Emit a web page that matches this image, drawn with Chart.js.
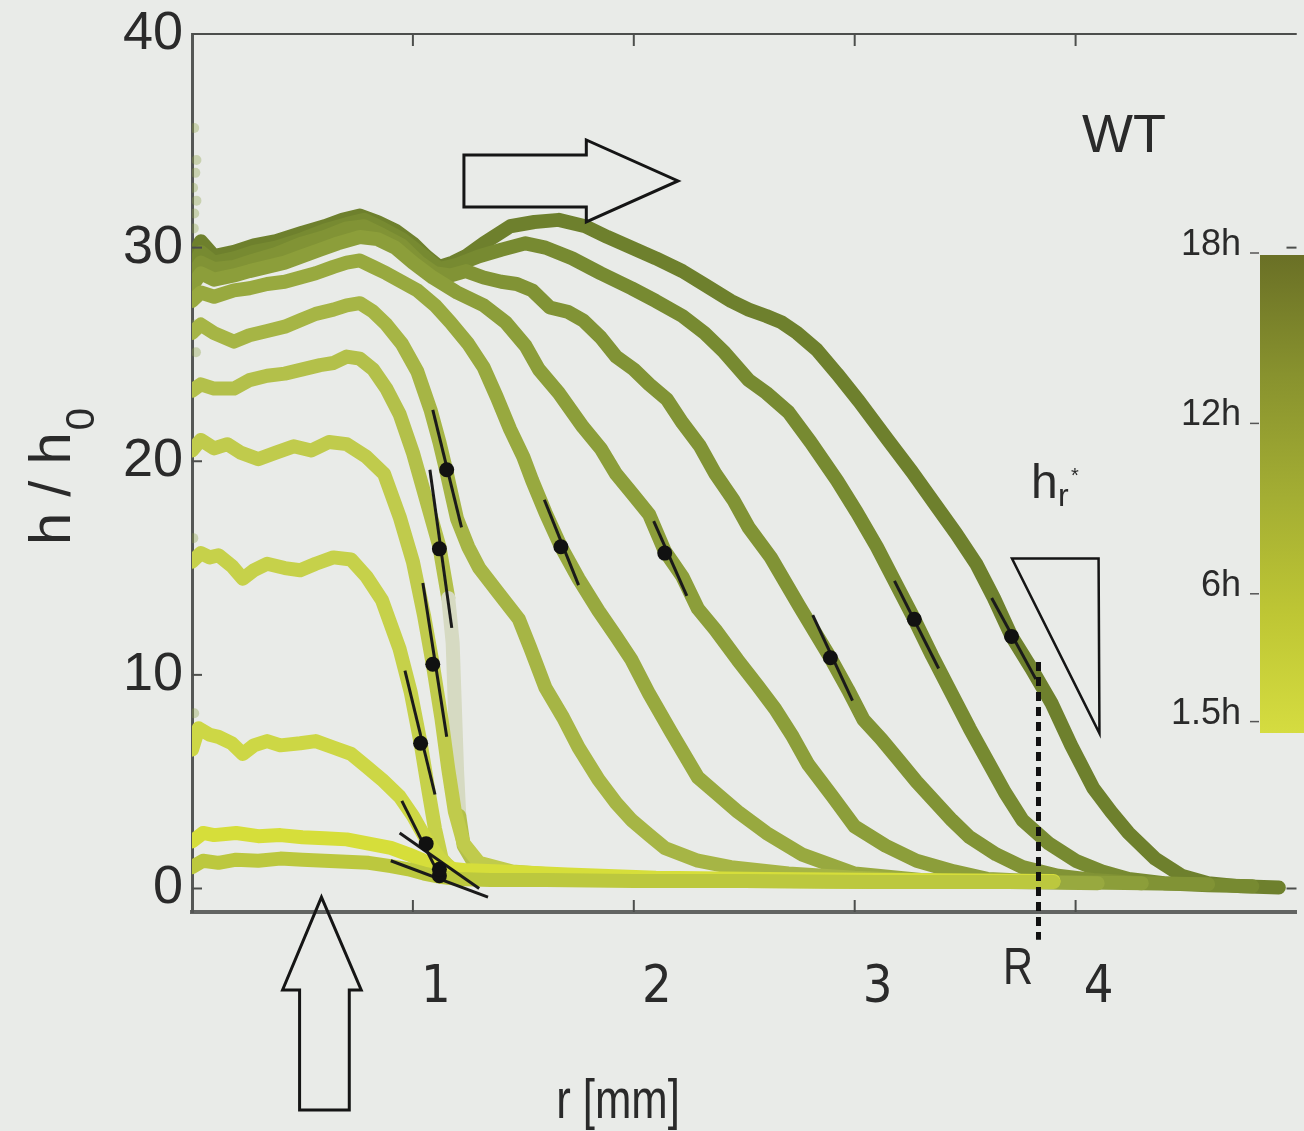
<!DOCTYPE html>
<html>
<head>
<meta charset="utf-8">
<script src="https://cdn.jsdelivr.net/npm/chart.js@4.4.1/dist/chart.umd.min.js"></script>
<style>
  html, body { margin: 0; padding: 0; background: #e9ebe8; }
  canvas { display: block; }
</style>
</head>
<body>
<canvas id="profileChart" width="1304" height="1131"></canvas>
<script>
// axis ticks
const xTicks = [1, 2, 3, 4]
const xTickLabels = ['1', '2', '3', '4']
const yTicks = [0, 10, 20, 30, 40]
const yTickLabels = ['0', '10', '20', '30', '40']

// colour bar (time of each profile)
const timeValues = [18, 12, 6, 1.5]
const timeLabels = ['18h', '12h', '6h', '1.5h']

// profiles h/h0 against r [mm], earliest first
const rC1 = [0, 0.05, 0.12, 0.2, 0.3, 0.4, 0.5, 0.6, 0.7, 0.8, 0.9, 0.98, 1.05, 1.12, 1.2, 1.35, 1.6, 2.0, 2.5, 3.1, 3.9]
const hC1 = [1.0, 1.3, 1.2, 1.35, 1.3, 1.4, 1.35, 1.3, 1.25, 1.2, 1.05, 0.9, 0.7, 0.55, 0.45, 0.4, 0.4, 0.35, 0.35, 0.3, 0.3]

const rC2 = [0, 0.05, 0.1, 0.2, 0.3, 0.4, 0.5, 0.6, 0.7, 0.8, 0.9, 0.98, 1.05, 1.1, 1.15, 1.25, 1.4, 1.7, 2.1, 2.6, 3.2, 3.9]
const hC2 = [2.2, 2.6, 2.5, 2.6, 2.45, 2.5, 2.4, 2.35, 2.3, 2.1, 1.9, 1.6, 1.3, 1.1, 0.95, 0.85, 0.8, 0.65, 0.5, 0.45, 0.4, 0.35]

const rC3 = [0, 0.03, 0.08, 0.12, 0.18, 0.23, 0.28, 0.34, 0.4, 0.49, 0.56, 0.64, 0.72, 0.79, 0.86, 0.94, 1.0, 1.06, 1.12, 1.18, 1.28, 1.45, 1.8, 2.3, 2.9, 3.6]
const hC3 = [6.5, 7.5, 7.2, 7.1, 6.8, 6.3, 6.7, 6.9, 6.7, 6.8, 6.9, 6.6, 6.3, 5.7, 5.1, 4.3, 3.4, 2.3, 1.4, 0.9, 0.7, 0.6, 0.5, 0.4, 0.35, 0.3]

const rC4 = [0, 0.04, 0.08, 0.12, 0.18, 0.23, 0.28, 0.34, 0.42, 0.49, 0.56, 0.64, 0.72, 0.79, 0.86, 0.94, 0.99, 1.035, 1.07, 1.1, 1.13, 1.18, 1.3, 1.5, 1.9, 2.5, 3.2]
const hC4 = [15.3, 15.7, 15.5, 15.6, 15.1, 14.5, 14.9, 15.2, 15.0, 14.9, 15.2, 15.5, 15.4, 14.6, 13.5, 11.2, 9.2, 6.8, 4.6, 2.8, 1.4, 0.8, 0.6, 0.5, 0.45, 0.35, 0.3]

const rC5 = [0, 0.04, 0.1, 0.16, 0.22, 0.3, 0.38, 0.46, 0.54, 0.62, 0.7, 0.79, 0.87, 0.94, 1.0, 1.05, 1.09, 1.13, 1.16, 1.19, 1.23, 1.3, 1.45, 1.7, 2.1, 2.7, 3.4]
const hC5 = [20.5, 21.0, 20.6, 20.8, 20.4, 20.1, 20.4, 20.7, 20.5, 20.9, 20.8, 20.2, 19.4, 17.4, 15.3, 12.8, 10.5, 7.9, 5.6, 3.6, 2.1, 1.2, 0.8, 0.6, 0.45, 0.35, 0.3]

const rC6 = [0, 0.04, 0.1, 0.19, 0.26, 0.34, 0.42, 0.5, 0.58, 0.64, 0.7, 0.76, 0.82, 0.88, 0.94, 1.0, 1.06, 1.12, 1.16, 1.18, 1.19, 1.2, 1.21, 1.23, 1.27, 1.35, 1.5, 1.8, 2.2, 2.8, 3.5]
const hC6 = [23.3, 23.6, 23.4, 23.4, 23.8, 24.0, 24.1, 24.3, 24.5, 24.6, 24.9, 24.8, 24.3, 23.4, 22.2, 20.4, 18.2, 16.0, 13.6, 11.5, 8.5, 5.5, 3.4, 2.0, 1.3, 0.9, 0.7, 0.55, 0.45, 0.35, 0.3]

const rC7 = [0, 0.04, 0.1, 0.19, 0.26, 0.34, 0.42, 0.49, 0.56, 0.64, 0.7, 0.76, 0.82, 0.88, 0.95, 1.02, 1.08, 1.12, 1.15, 1.2, 1.25, 1.3, 1.39, 1.48, 1.53, 1.6, 1.68, 1.75, 1.84, 1.92, 1.99, 2.07, 2.14, 2.29, 2.44, 2.7, 3.0, 3.4, 3.8]
const hC7 = [26.0, 26.4, 26.0, 25.6, 25.9, 26.1, 26.3, 26.6, 26.9, 27.1, 27.3, 27.4, 27.0, 26.4, 25.5, 24.2, 22.4, 20.9, 19.6, 17.3, 16.0, 15.0, 13.8, 12.6, 11.3, 9.4, 8.0, 6.6, 5.1, 4.0, 3.2, 2.5, 1.9, 1.3, 1.0, 0.7, 0.5, 0.35, 0.3]

const rC8 = [0, 0.04, 0.1, 0.19, 0.26, 0.34, 0.42, 0.49, 0.56, 0.64, 0.7, 0.76, 0.82, 0.88, 0.95, 1.02, 1.1, 1.17, 1.25, 1.32, 1.38, 1.44, 1.5, 1.54, 1.6, 1.67, 1.75, 1.84, 1.92, 1.99, 2.07, 2.17, 2.29, 2.38, 2.47, 2.6, 2.76, 3.0, 3.3, 3.7, 4.1]
const hC8 = [27.5, 27.9, 27.7, 28.0, 28.1, 28.3, 28.4, 28.6, 28.8, 29.1, 29.3, 29.4, 29.1, 28.8, 28.4, 28.0, 27.3, 26.5, 25.5, 24.4, 23.0, 21.5, 20.2, 19.1, 17.6, 16.0, 14.5, 13.0, 11.8, 10.7, 9.1, 7.3, 5.2, 4.4, 3.6, 2.6, 1.6, 0.7, 0.4, 0.3, 0.25]

const rC9 = [0, 0.04, 0.1, 0.19, 0.26, 0.34, 0.42, 0.5, 0.58, 0.66, 0.76, 0.84, 0.92, 1.0, 1.09, 1.2, 1.32, 1.42, 1.51, 1.57, 1.66, 1.77, 1.85, 1.92, 2.0, 2.07, 2.14, 2.22, 2.29, 2.37, 2.47, 2.56, 2.64, 2.72, 2.79, 2.9, 3.0, 3.14, 3.28, 3.45, 3.6, 3.9, 4.3]
const hC9 = [28.2, 28.8, 28.5, 28.7, 28.9, 29.1, 29.3, 29.6, 29.9, 30.2, 30.5, 30.4, 30.0, 29.3, 28.6, 27.9, 27.3, 26.5, 25.4, 24.3, 23.2, 21.6, 20.6, 19.4, 18.4, 17.5, 15.8, 14.6, 13.1, 12.1, 10.7, 9.5, 8.4, 7.1, 5.8, 4.3, 2.9, 2.0, 1.3, 0.8, 0.45, 0.3, 0.25]

const rC10 = [0, 0.04, 0.1, 0.19, 0.28, 0.38, 0.5, 0.6, 0.7, 0.78, 0.86, 0.95, 1.03, 1.1, 1.17, 1.24, 1.32, 1.4, 1.47, 1.54, 1.62, 1.7, 1.77, 1.85, 1.92, 2.0, 2.07, 2.15, 2.22, 2.3, 2.37, 2.45, 2.52, 2.62, 2.75, 2.89, 2.97, 3.04, 3.12, 3.2, 3.28, 3.36, 3.44, 3.52, 3.64, 3.76, 3.92, 4.08, 4.3, 4.6]
const hC10 = [28.7, 29.3, 29.0, 29.1, 29.4, 29.7, 30.2, 30.5, 30.9, 31.0, 30.6, 30.1, 29.3, 28.8, 28.7, 28.9, 28.6, 28.4, 28.3, 28.0, 27.2, 27.0, 26.6, 25.8, 24.9, 24.3, 23.6, 22.9, 21.8, 20.7, 19.4, 18.2, 16.9, 15.5, 13.2, 10.8, 9.3, 7.9, 7.0, 6.0, 5.0, 4.1, 3.2, 2.4, 1.6, 1.0, 0.6, 0.4, 0.25, 0.2]

const rC11 = [0, 0.04, 0.1, 0.19, 0.28, 0.38, 0.5, 0.6, 0.7, 0.78, 0.86, 0.95, 1.05, 1.12, 1.2, 1.3, 1.4, 1.51, 1.6, 1.72, 1.85, 1.99, 2.1, 2.22, 2.32, 2.41, 2.52, 2.6, 2.7, 2.8, 2.92, 3.01, 3.1, 3.18, 3.27, 3.35, 3.44, 3.52, 3.6, 3.68, 3.76, 3.88, 4.0, 4.12, 4.24, 4.4, 4.6, 4.8]
const hC11 = [29.0, 29.8, 29.3, 29.5, 29.8, 30.0, 30.4, 30.8, 31.1, 31.3, 30.9, 30.4, 29.6, 29.0, 29.2, 29.6, 29.9, 30.2, 30.0, 29.5, 28.8, 28.1, 27.5, 26.8, 26.0, 25.1, 23.8, 23.2, 22.3, 20.9, 19.1, 17.6, 16.0, 14.4, 12.6, 10.9, 9.1, 7.5, 6.0, 4.5, 3.2, 2.1, 1.3, 0.8, 0.45, 0.25, 0.15, 0.1]

const rC12 = [0, 0.04, 0.1, 0.19, 0.28, 0.38, 0.5, 0.6, 0.68, 0.76, 0.84, 0.92, 1.0, 1.06, 1.12, 1.18, 1.24, 1.32, 1.44, 1.55, 1.66, 1.78, 1.88, 1.99, 2.1, 2.22, 2.33, 2.44, 2.52, 2.6, 2.67, 2.74, 2.83, 2.92, 3.02, 3.15, 3.26, 3.37, 3.46, 3.55, 3.63, 3.71, 3.8, 3.89, 3.98, 4.08, 4.16, 4.24, 4.36, 4.48, 4.6, 4.75, 4.92]
const hC12 = [29.4, 30.3, 29.6, 29.8, 30.1, 30.3, 30.7, 31.0, 31.3, 31.5, 31.2, 30.8, 30.2, 29.6, 29.1, 29.3, 29.6, 30.2, 31.0, 31.2, 31.3, 31.0, 30.5, 30.0, 29.5, 28.9, 28.2, 27.5, 27.1, 26.8, 26.5, 26.0, 25.2, 24.1, 22.8, 21.0, 19.5, 17.9, 16.6, 15.2, 13.6, 11.8, 10.3, 8.7, 6.7, 4.7, 3.6, 2.6, 1.4, 0.6, 0.25, 0.1, 0.05]

// scattered points at the left edge
const edgeR = [0.01, 0.02, 0.005, 0.015, 0.01, 0.02, 0.008, 0.012, 0.018, 0.006, 0.01]
const edgeH = [35.6, 34.1, 32.8, 33.5, 31.6, 32.2, 30.9, 26.4, 25.1, 16.4, 8.2]

// front points where the slope was taken, one per profile
const dotR = [1.12, 1.12, 1.06, 1.035, 1.09, 1.12, 1.153, 1.67, 2.14, 2.89, 3.27, 3.71]
const dotH = [0.6, 0.9, 2.1, 6.8, 10.5, 15.9, 19.6, 16.0, 15.7, 10.8, 12.6, 11.8]

// tangent segments: start r, start h, end r, end h
const tanR0 = [0.9, 0.94, 0.95, 0.964, 1.045, 1.077, 1.09, 1.595, 2.09, 2.81, 3.18, 3.62]
const tanH0 = [1.3, 2.6, 4.1, 10.2, 14.3, 19.6, 22.4, 18.2, 17.2, 12.8, 14.4, 13.6]
const tanR1 = [1.34, 1.3, 1.12, 1.1, 1.153, 1.176, 1.22, 1.75, 2.24, 2.99, 3.38, 3.82]
const tanH1 = [-0.4, 0.0, 0.6, 4.4, 7.1, 12.2, 16.9, 14.2, 13.7, 8.8, 10.3, 9.8]

// spreading radius R
const radiusR = [3.832, 3.832]
const radiusH = [10.6, -2.4]

const curveColors = ['#bcc83e', '#d6de3a', '#cdd745', '#c6d14a', '#c0cb4c', '#b3c04a', '#a6b545', '#98a93f', '#8c9e3a', '#819335', '#778a31', '#6e802d']

const fontMain = '"Liberation Sans", Arial, sans-serif'
const fontNarrow = '"Liberation Sans Narrow", "DejaVu Sans Condensed", "Liberation Sans", sans-serif'

function pts(rs, hs) {
  return rs.map((r, i) => ({ x: r, y: hs[i] }))
}

var curves = [
  [rC1, hC1], [rC2, hC2], [rC3, hC3], [rC4, hC4], [rC5, hC5], [rC6, hC6],
  [rC7, hC7], [rC8, hC8], [rC9, hC9], [rC10, hC10], [rC11, hC11], [rC12, hC12]
]

var datasets = []

// radius line, drawn on top
datasets.push({
  data: pts(radiusR, radiusH),
  showLine: true,
  borderColor: '#111',
  borderWidth: 5,
  borderDash: [9, 6],
  pointRadius: 0,
  clip: false,
  order: 0
})

// black dots
datasets.push({
  data: pts(dotR, dotH),
  pointRadius: 7.5,
  pointBackgroundColor: '#111',
  pointBorderWidth: 0,
  order: 1
})

// tangent lines
tanR0.forEach((r, i) => {
  datasets.push({
    data: pts([r, tanR1[i]], [tanH0[i], tanH1[i]]),
    showLine: true,
    borderColor: '#1a1a1a',
    borderWidth: 3,
    pointRadius: 0,
    order: 2
  })
})

curves.forEach((c, i) => {
  var ds = {
    data: pts(c[0], c[1]),
    showLine: true,
    borderColor: curveColors[i],
    borderWidth: 14,
    borderJoinStyle: 'round',
    borderCapStyle: 'round',
    pointRadius: 0,
    tension: 0,
    order: 10 + i
  }
  // the steep part of the 6th profile is drawn faint in the figure
  if (i == 5) {
    ds.segment = {
      borderColor: ctx => (ctx.p0.parsed.x >= 1.155 && ctx.p1.parsed.x <= 1.215) ? '#d6dac2' : undefined
    }
  }
  datasets.push(ds)
})

datasets.push({
  data: pts(edgeR, edgeH),
  pointRadius: 5,
  pointBackgroundColor: 'rgba(140, 160, 70, 0.35)',
  pointBorderWidth: 0,
  order: 40
})

function line(ctx, x0, y0, x1, y1) {
  ctx.beginPath()
  ctx.moveTo(x0, y0)
  ctx.lineTo(x1, y1)
  ctx.stroke()
}

function poly(ctx, P) {
  ctx.beginPath()
  P.forEach((p, i) => i ? ctx.lineTo(p[0], p[1]) : ctx.moveTo(p[0], p[1]))
  ctx.closePath()
  ctx.stroke()
}

// frame, inner ticks, arrows, labels and the colour bar
const extras = {
  id: 'extras',
  afterDraw(chart) {
    const ctx = chart.ctx
    const xs = chart.scales.x, ys = chart.scales.y
    const a = chart.chartArea
    const P = (r, h) => [xs.getPixelForValue(r), ys.getPixelForValue(h)]
    ctx.save()

    ctx.strokeStyle = '#4c4e4c'
    ctx.lineWidth = 2
    line(ctx, a.left, a.top, a.right, a.top)
    xTicks.forEach(v => {
      var x = xs.getPixelForValue(v)
      line(ctx, x, a.bottom, x, a.bottom - 12)
      line(ctx, x, a.top, x, a.top + 12)
    })
    yTicks.forEach(v => {
      var y = ys.getPixelForValue(v)
      line(ctx, a.left, y, a.left + 10, y)
      line(ctx, a.right, y, a.right - 10, y)
    })

    // arrows and slope triangle
    ctx.strokeStyle = '#151515'
    ctx.lineWidth = 3
    ctx.lineJoin = 'miter'
    poly(ctx, [P(1.231, 34.34), P(1.785, 34.34), P(1.785, 35.04), P(2.2, 33.12), P(1.785, 31.2), P(1.785, 31.9), P(1.231, 31.9)])
    poly(ctx, [P(0.586, -0.4), P(0.766, -4.75), P(0.712, -4.75), P(0.712, -10.37), P(0.487, -10.37), P(0.487, -4.75), P(0.41, -4.75)])
    ctx.lineWidth = 2.5
    poly(ctx, [P(3.712, 15.45), P(4.104, 15.45), P(4.108, 7.26)])

    ctx.fillStyle = '#2a2a2a'
    ctx.textBaseline = 'alphabetic'

    // WT
    ctx.font = '54px ' + fontMain
    ctx.textAlign = 'left'
    ctx.fillText('WT', 1082, 152)

    // h_r*
    ctx.font = '48px ' + fontMain
    ctx.fillText('h', 1031, 498)
    ctx.font = '32px ' + fontMain
    ctx.fillText('r', 1058, 506)
    ctx.font = '20px ' + fontMain
    ctx.fillText('*', 1071, 482)

    // R
    ctx.save()
    ctx.translate(1018, 984)
    ctx.scale(0.8, 1)
    ctx.font = '52px ' + fontMain
    ctx.textAlign = 'center'
    ctx.fillText('R', 0, 0)
    ctx.restore()

    // x title
    ctx.save()
    ctx.translate(618, 1118)
    ctx.scale(0.78, 1)
    ctx.font = '56px ' + fontMain
    ctx.textAlign = 'center'
    ctx.fillText('r [mm]', 0, 0)
    ctx.restore()

    // y title with subscript
    ctx.save()
    ctx.translate(70, 545)
    ctx.rotate(-Math.PI / 2)
    ctx.font = '58px ' + fontMain
    ctx.textAlign = 'left'
    ctx.fillText('h / h', 0, 0)
    var w = ctx.measureText('h / h').width
    ctx.font = '40px ' + fontMain
    ctx.fillText('0', w + 2, 24)
    ctx.restore()

    // colour bar
    var g = ctx.createLinearGradient(0, 255, 0, 733)
    g.addColorStop(0, '#6a7026')
    g.addColorStop(0.25, '#88922e')
    g.addColorStop(0.5, '#a3ad33')
    g.addColorStop(0.75, '#bec634')
    g.addColorStop(1, '#d5dc40')
    ctx.fillStyle = g
    ctx.fillRect(1260, 255, 44, 478)

    ctx.fillStyle = '#2a2a2a'
    ctx.strokeStyle = '#555'
    ctx.lineWidth = 1.5
    ctx.font = '36px ' + fontMain
    ctx.textAlign = 'right'
    ctx.textBaseline = 'middle'
    timeValues.forEach((t, i) => {
      var y = 253 + (18 - t) * 28.4
      line(ctx, 1250, y, 1259, y)
      ctx.fillText(timeLabels[i], 1241, y - 8)
    })
    ctx.restore()
  }
}

var ctx = document.getElementById('profileChart').getContext('2d')
var chartProfil = new Chart(ctx, {
  type: 'scatter',
  data: { datasets: datasets },
  options: {
    responsive: false,
    animation: false,
    devicePixelRatio: 1,
    layout: { padding: { top: 34, right: 3, left: 0, bottom: 0 } },
    plugins: { legend: { display: false }, tooltip: { enabled: false } },
    scales: {
      x: {
        type: 'linear',
        min: 0,
        max: 5,
        afterBuildTicks: ax => { ax.ticks = xTicks.map(v => ({ value: v })) },
        afterFit: ax => { ax.height = 219; ax.paddingLeft = 0; ax.paddingRight = 0 },
        grid: { display: false, drawTicks: false },
        border: { color: '#626462', width: 4 },
        ticks: {
          padding: 45,
          labelOffset: 23,
          color: '#2a2a2a',
          font: { family: fontNarrow, size: 52 },
          callback: (v, i) => xTickLabels[i]
        }
      },
      y: {
        type: 'linear',
        min: -1.1,
        max: 40,
        afterBuildTicks: ax => { ax.ticks = yTicks.map(v => ({ value: v })) },
        afterFit: ax => { ax.width = 192; ax.paddingTop = 0; ax.paddingBottom = 0 },
        grid: { display: false, drawTicks: false },
        border: { color: '#555755', width: 3 },
        ticks: {
          padding: 9,
          color: '#2a2a2a',
          font: { family: fontMain, size: 54, lineHeight: 0.9 },
          callback: (v, i) => yTickLabels[i]
        }
      }
    }
  },
  plugins: [extras]
})
</script>
</body>
</html>
